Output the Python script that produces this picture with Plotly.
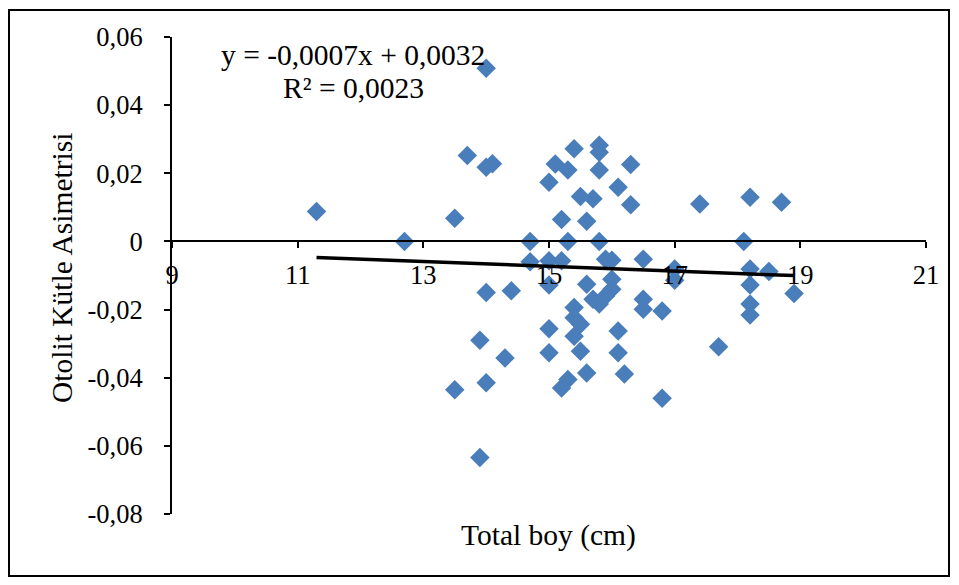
import plotly.graph_objects as go

# Data
total_boy = [11.3, 12.7, 13.5, 13.7, 14.0, 14.1, 14.0, 13.5, 13.9, 14.0, 14.0, 14.4, 14.3, 13.9,
             14.7, 14.7, 15.0, 15.1, 15.3, 15.4, 15.8, 15.8, 15.8, 16.3, 16.1, 15.5, 15.7, 16.3,
             15.2, 15.6, 15.3, 15.8, 15.0, 15.2, 15.9, 16.0, 16.5, 17.0, 17.0, 15.0, 15.6, 16.0,
             16.0, 15.7, 15.8, 15.9, 16.5, 16.5, 16.8, 15.4, 15.4, 15.5, 15.4, 15.0, 16.1, 15.0,
             15.5, 16.1, 15.6, 16.2, 15.3, 15.2, 16.8, 17.4, 18.2, 18.7, 18.1, 18.2, 18.5, 18.2,
             18.9, 18.2, 18.2, 17.7]
asimetri = [0.0088, 0.0, 0.0068, 0.0252, 0.0218, 0.0228, 0.0508, -0.0435, -0.029, -0.0415,
            -0.015, -0.0145, -0.0342, -0.0634, 0.0, -0.006, 0.0174, 0.0227, 0.021, 0.0272,
            0.0282, 0.0262, 0.021, 0.0226, 0.0159, 0.0132, 0.0125, 0.0108, 0.0064, 0.0059,
            0.0, 0.0, -0.0057, -0.0057, -0.0052, -0.0055, -0.0052, -0.0081, -0.0114, -0.0128,
            -0.0126, -0.0111, -0.014, -0.017, -0.0184, -0.016, -0.017, -0.0199, -0.0204, -0.0194,
            -0.0224, -0.0243, -0.0278, -0.0256, -0.0263, -0.0327, -0.0322, -0.0327, -0.0386, -0.0389,
            -0.0405, -0.043, -0.046, 0.011, 0.013, 0.0115, 0.0, -0.0081, -0.0088, -0.0128,
            -0.0153, -0.0184, -0.0216, -0.0309]

# Trendline coefficients shown on the chart
slope = -0.0007
intercept = 0.0032

x_ticks = [9, 11, 13, 15, 17, 19, 21]
y_ticks = [0.06, 0.04, 0.02, 0.0, -0.02, -0.04, -0.06, -0.08]
y_tick_labels = ["0,06", "0,04", "0,02", "0", "-0,02", "-0,04", "-0,06", "-0,08"]

x_range = [9, 21]
y_range = [-0.08, 0.06]

FONT = "Liberation Serif, Times New Roman, serif"
TICK_SIZE = 26.5
TITLE_SIZE = 29.5

trend_x = [min(total_boy), max(total_boy)]
trend_y = [slope * v + intercept for v in trend_x]

W, H = 943, 569
L, T, PW, PH = 164, 29, 754, 477

def px(fx):
    return (fx - L) / PW

def py(fy):
    return (T + PH - fy) / PH

fig = go.Figure()
fig.add_trace(go.Scatter(
    x=total_boy, y=asimetri, mode="markers",
    marker=dict(symbol="diamond", size=15, color="#4a7ebb", line=dict(width=0)),
    showlegend=False, cliponaxis=False,
))
fig.add_trace(go.Scatter(
    x=trend_x, y=trend_y, mode="lines",
    line=dict(color="black", width=3.5),
    showlegend=False,
))

zero_pos = (0 - y_range[0]) / (y_range[1] - y_range[0])

fig.update_layout(
    width=W, height=H,
    margin=dict(l=L, r=W - L - PW, t=T, b=H - T - PH, autoexpand=False),
    paper_bgcolor="white", plot_bgcolor="white",
    font=dict(family=FONT, size=TICK_SIZE, color="black"),
    xaxis=dict(
        range=x_range, tickvals=x_ticks, ticktext=[str(v) for v in x_ticks],
        showgrid=False, zeroline=False, showline=True, linecolor="black", linewidth=2,
        ticks="outside", ticklen=6, tickwidth=2, tickcolor="black",
        anchor="free", position=zero_pos, ticklabelstandoff=4,
        tickfont=dict(family=FONT, size=TICK_SIZE), automargin=False,
    ),
    yaxis=dict(
        range=y_range, tickvals=y_ticks, ticktext=y_tick_labels,
        showgrid=False, zeroline=False, showline=True, linecolor="black", linewidth=2,
        ticks="outside", ticklen=6, tickwidth=2, tickcolor="black",
        ticklabelstandoff=16, automargin=False,
        tickfont=dict(family=FONT, size=TICK_SIZE),
    ),
    shapes=[dict(type="rect", xref="paper", yref="paper",
                 x0=px(1), x1=px(941), y0=py(568), y1=py(2),
                 line=dict(color="black", width=2))],
    annotations=[
        dict(text="Total boy (cm)", xref="paper", yref="paper", x=px(540), y=py(527),
             xanchor="center", yanchor="middle", showarrow=False,
             font=dict(family=FONT, size=TITLE_SIZE)),
        dict(text="Otolit Kütle Asimetrisi", xref="paper", yref="paper", x=px(54), y=py(260),
             xanchor="center", yanchor="middle", showarrow=False, textangle=-90,
             font=dict(family=FONT, size=TITLE_SIZE)),
        dict(text="y = -0,0007x + 0,0032", xref="paper", yref="paper", x=px(345), y=py(47),
             xanchor="center", yanchor="middle", showarrow=False,
             font=dict(family=FONT, size=TITLE_SIZE)),
        dict(text="R² = 0,0023", xref="paper", yref="paper", x=px(345), y=py(80),
             xanchor="center", yanchor="middle", showarrow=False,
             font=dict(family=FONT, size=TITLE_SIZE)),
    ],
)

fig.write_html("out.html")
